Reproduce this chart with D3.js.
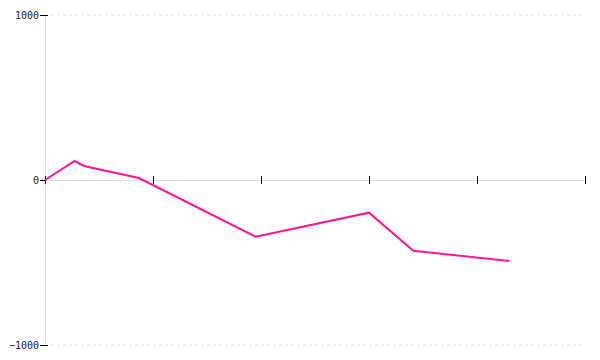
<!DOCTYPE html>
<html>
<head>
<meta charset="utf-8">
<script src="https://cdn.jsdelivr.net/npm/d3@7"></script>
<style>
  body { margin: 0; background: #fff; }
  .tick text { font-family: "DejaVu Sans Mono", monospace; font-size: 10px; fill: #222; }
</style>
</head>
<body>
<div id="chart"></div>
<script>
// data
const xValues = [0, 27.5, 36, 87, 195, 300, 341, 430];
const yValues = [0, 115, 85, 12, -344, -198, -429, -491];
const xTicks = [0, 100, 200, 300, 400, 500];
const yTicks = [-1000, 0, 1000];

const margin = {top: 15, right: 15, bottom: 15, left: 45},
    width = 600 - margin.left - margin.right,
    height = 360 - margin.top - margin.bottom;

const svg = d3.select("#chart")
  .append("svg")
    .attr("width", width + margin.left + margin.right)
    .attr("height", height + margin.top + margin.bottom)
  .append("g")
    .attr("transform", `translate(${margin.left},${margin.top})`);

const x = d3.scaleLinear().domain([0, 500]).range([0, width]);
const y = d3.scaleLinear().domain([-1000, 1000]).range([height, 0]);

// dashed grid at the outer y ticks
svg.append("g")
  .selectAll("line")
  .data(yTicks.filter(d => d !== 0))
  .join("line")
    .attr("x1", 6).attr("x2", width)
    .attr("y1", d => y(d)).attr("y2", d => y(d))
    .attr("stroke", "#e6e6e6")
    .attr("stroke-dasharray", "3,3");

// y axis
const yAxis = svg.append("g")
  .call(d3.axisLeft(y).tickValues(yTicks).tickFormat(d3.format("d")).tickSize(5).tickPadding(1));
yAxis.select(".domain").attr("stroke", "#ddd");
yAxis.selectAll(".tick line").attr("x2", 3).attr("x1", -5).attr("stroke", "#000");

// x axis at zero
const xAxis = svg.append("g")
  .attr("transform", `translate(0,${y(0)})`)
  .call(d3.axisBottom(x).tickValues(xTicks).tickFormat("").tickSizeOuter(0));
xAxis.select(".domain").attr("stroke", "#ddd");
xAxis.selectAll(".tick line").attr("y1", -4).attr("y2", 4).attr("stroke", "#000");

// the line
const points = xValues.map((d, i) => [d, yValues[i]]);
svg.append("path")
  .datum(points)
  .attr("fill", "none")
  .attr("stroke", "#ff1493")
  .attr("stroke-width", 2)
  .attr("d", d3.line().x(d => x(d[0])).y(d => y(d[1])));
</script>
</body>
</html>
